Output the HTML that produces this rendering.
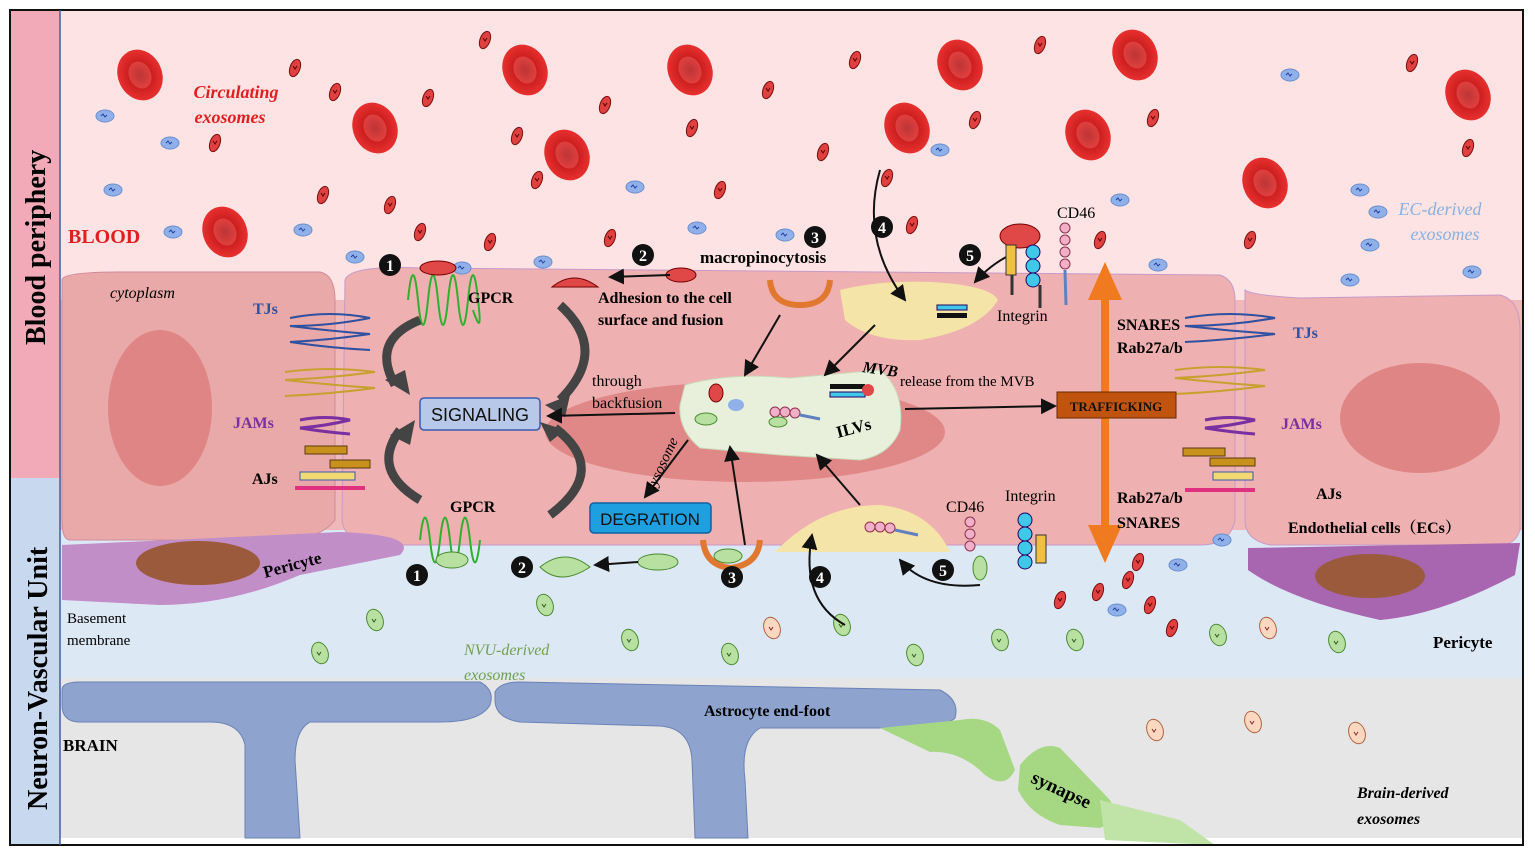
<!DOCTYPE html>
<html><head><meta charset="utf-8"><style>
html,body{margin:0;padding:0;background:#fff}
svg{display:block}
text{font-family:"Liberation Serif","Noto Serif CJK SC",serif}
.b{font-weight:bold}
.s{font-family:"Liberation Sans",sans-serif}
</style></head><body>
<svg width="1535" height="857" viewBox="0 0 1535 857" xmlns="http://www.w3.org/2000/svg">
<defs>
<marker id="ar" markerWidth="8" markerHeight="8" refX="7" refY="4" orient="auto"><path d="M0,0 L8,4 L0,8 Z" fill="#111"/></marker>
<radialGradient id="rbc"><stop offset="0" stop-color="#8a0a0a"/><stop offset="0.45" stop-color="#c81c1c"/><stop offset="1" stop-color="#e83030"/></radialGradient>
<g id="R"><ellipse rx="22" ry="26" fill="url(#rbc)" transform="rotate(-25)"/><ellipse rx="11" ry="14" fill="#f06060" opacity="0.5" transform="rotate(-25)"/></g>
<g id="e"><ellipse rx="5" ry="9" fill="#e04040" stroke="#7a1010" stroke-width="1" transform="rotate(20)"/><path d="M-2,-2 l2,3 l2,-3" stroke="#500" fill="none"/></g>
<g id="bl"><ellipse rx="9" ry="6" fill="#8fb0e8" stroke="#6a8ed0"/><path d="M-4,0 l2,-2 l2,3 l2,-2" stroke="#2040a0" fill="none"/></g>
<g id="g"><ellipse rx="8" ry="11" fill="#b8e0a0" stroke="#4a8a30" transform="rotate(-20)"/><path d="M-3,-1 l2,3 l2,-3" stroke="#2a5a20" fill="none"/></g>
<g id="o"><ellipse rx="8" ry="11" fill="#fcd8c0" stroke="#b06040" transform="rotate(-20)"/><path d="M-3,-1 l2,3 l2,-3" stroke="#803020" fill="none"/></g>
</defs>
<rect x="60" y="10" width="1463" height="300" fill="#fde3e3"/>
<rect x="60" y="300" width="1463" height="240" fill="#f0b8b8"/>
<rect x="60" y="530" width="1463" height="150" fill="#dde8f5"/>
<rect x="60" y="678" width="1463" height="160" fill="#e6e6e6"/>
<path d="M62,280 Q62,272 120,272 L320,272 Q335,275 335,300 L335,520 Q320,540 280,540 L70,540 Q62,540 62,520 Z" fill="#e9a9a9" stroke="#d08a9a"/>
<path d="M345,280 Q350,265 420,268 L1220,275 Q1235,280 1235,300 L1235,520 Q1230,545 1200,545 L380,545 Q345,545 342,520 Z" fill="#eeb0b0" stroke="#c79ac8"/>
<path d="M1245,290 Q1250,295 1300,298 L1500,295 Q1520,300 1520,330 L1520,530 Q1515,545 1500,545 L1270,545 Q1245,540 1245,520 Z" fill="#eeb0b0" stroke="#c79ac8"/>
<ellipse cx="160" cy="408" rx="52" ry="78" fill="#e08585"/>
<ellipse cx="1420" cy="418" rx="80" ry="55" fill="#e08585"/>
<ellipse cx="745" cy="432" rx="200" ry="50" fill="#e08888"/>
<path d="M62,545 L340,532 Q420,535 400,555 L300,575 Q230,605 160,605 L62,600 Z" fill="#c28ec8"/>
<ellipse cx="198" cy="563" rx="62" ry="22" fill="#9b5a3c"/>
<path d="M1248,548 L1520,543 L1515,575 Q1440,615 1380,620 Q1290,600 1248,570 Z" fill="#a866b0"/>
<ellipse cx="1370" cy="576" rx="55" ry="22" fill="#9b5a3c"/>
<path d="M62,690 Q62,682 80,682 L480,682 Q495,690 490,705 Q480,722 440,722 L310,722 Q295,730 295,760 L300,838 L245,838 L245,745 Q240,722 210,722 L80,722 Q62,722 62,705 Z" fill="#8ea4cf" stroke="#6a82b5"/>
<path d="M495,692 Q500,682 520,682 L940,690 Q960,700 955,718 Q945,728 900,728 L760,728 Q740,740 745,780 L748,838 L695,838 L692,760 Q690,728 660,726 L520,722 Q495,718 495,700 Z" fill="#8ea4cf" stroke="#6a82b5"/>
<path d="M880,728 L960,720 Q985,715 1000,730 L1015,770 Q1005,790 985,775 Q960,750 930,752 Z" fill="#a6d884"/>
<path d="M1020,765 Q1040,740 1060,748 L1110,800 Q1120,820 1100,828 L1060,825 Q1030,815 1018,790 Z" fill="#a6d884"/>
<path d="M1100,800 L1180,820 L1215,845 L1105,840 Z" fill="#c0e4a8"/>
<path d="M840,290 Q880,280 930,282 Q990,285 998,300 Q980,330 920,340 Q870,342 845,320 Z" fill="#f5e4a8"/>
<path d="M775,552 Q820,505 880,505 Q930,510 950,552 Z" fill="#f5e4a8"/>
<path d="M685,385 Q730,372 790,378 L880,370 Q905,390 900,430 Q890,455 860,460 L780,455 L700,448 Q678,430 680,405 Z" fill="#e8f0dc" stroke="#c9d9b8"/>
<rect x="10" y="10" width="50" height="468" fill="#f2a9b8"/>
<rect x="10" y="478" width="50" height="367" fill="#c8d8ee"/>
<rect x="10" y="10" width="1513" height="835" fill="none" stroke="#111" stroke-width="2"/>
<line x1="60" y1="10" x2="60" y2="845" stroke="#4060a0" stroke-width="1.5"/>
<text class="b" font-size="28" transform="translate(45,345) rotate(-90)">Blood periphery</text>
<text class="b" font-size="28" transform="translate(47,810) rotate(-90)">Neuron-Vascular Unit</text>
<use href="#R" x="140" y="75"/><use href="#R" x="525" y="70"/><use href="#R" x="690" y="70"/><use href="#R" x="375" y="128"/><use href="#R" x="567" y="155"/><use href="#R" x="225" y="232"/><use href="#R" x="960" y="65"/><use href="#R" x="1135" y="55"/><use href="#R" x="907" y="128"/><use href="#R" x="1088" y="135"/><use href="#R" x="1468" y="95"/><use href="#R" x="1265" y="183"/>
<g>
<use href="#e" x="485" y="40"/><use href="#e" x="295" y="68"/><use href="#e" x="428" y="98"/><use href="#e" x="335" y="92"/><use href="#e" x="605" y="105"/><use href="#e" x="517" y="136"/><use href="#e" x="692" y="128"/><use href="#e" x="768" y="90"/><use href="#e" x="855" y="60"/><use href="#e" x="1040" y="45"/><use href="#e" x="1412" y="63"/><use href="#e" x="1153" y="118"/><use href="#e" x="1468" y="148"/><use href="#e" x="323" y="195"/><use href="#e" x="390" y="205"/><use href="#e" x="420" y="232"/><use href="#e" x="490" y="242"/><use href="#e" x="610" y="238"/><use href="#e" x="537" y="180"/><use href="#e" x="720" y="190"/><use href="#e" x="823" y="152"/><use href="#e" x="887" y="178"/><use href="#e" x="912" y="225"/><use href="#e" x="1100" y="240"/><use href="#e" x="1250" y="240"/><use href="#e" x="975" y="120"/><use href="#e" x="215" y="143"/>
<use href="#bl" x="105" y="116"/><use href="#bl" x="170" y="143"/><use href="#bl" x="113" y="190"/><use href="#bl" x="173" y="232"/><use href="#bl" x="303" y="230"/><use href="#bl" x="355" y="257"/><use href="#bl" x="462" y="268"/><use href="#bl" x="543" y="262"/><use href="#bl" x="635" y="187"/><use href="#bl" x="697" y="228"/><use href="#bl" x="785" y="235"/><use href="#bl" x="940" y="150"/><use href="#bl" x="1290" y="75"/><use href="#bl" x="1360" y="190"/><use href="#bl" x="1378" y="212"/><use href="#bl" x="1370" y="245"/><use href="#bl" x="1350" y="280"/><use href="#bl" x="1472" y="272"/><use href="#bl" x="1158" y="265"/><use href="#bl" x="1120" y="200"/>
<use href="#g" x="545" y="605"/><use href="#g" x="375" y="620"/><use href="#g" x="320" y="653"/><use href="#g" x="630" y="640"/><use href="#g" x="730" y="654"/><use href="#g" x="842" y="625"/><use href="#g" x="915" y="655"/><use href="#g" x="1000" y="640"/><use href="#g" x="1075" y="640"/><use href="#g" x="1218" y="635"/><use href="#g" x="1337" y="642"/>
<use href="#o" x="772" y="628"/><use href="#o" x="1268" y="628"/><use href="#o" x="1155" y="730"/><use href="#o" x="1253" y="722"/><use href="#o" x="1357" y="733"/>
<use href="#e" x="1060" y="600"/><use href="#e" x="1098" y="592"/><use href="#e" x="1128" y="580"/><use href="#e" x="1150" y="605"/><use href="#e" x="1172" y="628"/><use href="#e" x="1138" y="562"/>
<use href="#bl" x="1117" y="610"/><use href="#bl" x="1178" y="565"/><use href="#bl" x="1222" y="540"/>
</g>
<g fill="none" stroke-width="2">
<path d="M290,318 q40,-8 80,0 q-40,8 -80,8 q40,5 80,8 q-40,6 -80,8 q40,6 80,8" stroke="#3050a0"/>
<path d="M285,372 q45,-6 90,0 q-45,6 -90,8 q45,5 90,8 q-45,6 -90,8" stroke="#c8a030"/>
<path d="M300,420 q25,-5 50,0 q-25,6 -50,8 q25,4 50,6" stroke="#7a30a0" stroke-width="3"/>
<path d="M1185,318 q45,-8 90,0 q-45,8 -90,8 q45,5 90,8 q-45,6 -90,8" stroke="#3050a0"/>
<path d="M1175,370 q45,-6 90,0 q-45,6 -90,8 q45,5 90,8 q-45,6 -90,8" stroke="#c8a030"/>
<path d="M1205,420 q25,-5 50,0 q-25,6 -50,8 q25,4 50,6" stroke="#7a30a0" stroke-width="3"/>
</g>
<rect x="305" y="446" width="42" height="8" fill="#c8901c" stroke="#5a3a10"/><rect x="330" y="460" width="40" height="8" fill="#c8901c" stroke="#5a3a10"/><rect x="300" y="472" width="55" height="8" fill="#f2d870" stroke="#3a5ab0"/><rect x="295" y="486" width="70" height="4" fill="#e03080"/>
<rect x="1183" y="448" width="42" height="8" fill="#c8901c" stroke="#5a3a10"/><rect x="1210" y="458" width="45" height="8" fill="#c8901c" stroke="#5a3a10"/><rect x="1213" y="472" width="40" height="8" fill="#f2d870" stroke="#3a5ab0"/><rect x="1185" y="488" width="70" height="4" fill="#e03080"/>
<path d="M408,300 q5,-50 10,0 t10,0 t10,0 t10,0 t10,0 t10,0 t10,0 q5,40 -5,10" fill="none" stroke="#30b030" stroke-width="2"/>
<ellipse cx="438" cy="268" rx="18" ry="7" fill="#e04848" stroke="#700"/>
<path d="M420,540 q5,-45 10,0 t10,0 t10,0 t10,0 t10,0 t10,0" fill="none" stroke="#30b030" stroke-width="2"/>
<ellipse cx="452" cy="560" rx="16" ry="8" fill="#b8e0a0" stroke="#4a8a30"/>
<g fill="none" stroke="#444" stroke-width="9">
<path d="M420,320 Q370,340 395,385"/><path d="M560,305 Q610,350 560,400"/><path d="M420,500 Q370,470 400,430"/><path d="M550,515 Q610,470 555,428"/>
</g>
<g fill="#444"><path d="M385,380 l25,15 l-5,-25 Z"/><path d="M570,395 l-25,10 l20,12 Z"/><path d="M390,435 l25,-15 l-5,25 Z"/><path d="M565,430 l-25,-8 l10,20 Z"/></g>
<!-- orange double arrow (behind box) -->
<rect x="1101" y="295" width="8" height="235" fill="#f07a20"/>
<path d="M1088,300 L1105,262 L1122,300 Z" fill="#f07a20"/>
<path d="M1088,525 L1105,563 L1122,525 Z" fill="#f07a20"/>
<rect x="420" y="398" width="120" height="32" rx="4" fill="#b8c8e8" stroke="#3a5ab0" stroke-width="1.5"/>
<text class="s" x="480" y="421" font-size="18" text-anchor="middle" fill="#111">SIGNALING</text>
<rect x="590" y="503" width="121" height="30" rx="4" fill="#1ea0e0" stroke="#1060a0" stroke-width="1.5"/>
<text class="s" x="650" y="525" font-size="17" text-anchor="middle" fill="#111">DEGRATION</text>
<rect x="1057" y="392" width="119" height="26" fill="#c0540f" stroke="#6a2a00"/>
<text class="b" x="1116" y="411" font-size="13" text-anchor="middle" fill="#111">TRAFFICKING</text>
<path d="M552,287 q22,-18 46,0 Z" fill="#e04848" stroke="#700"/>
<path d="M540,567 q20,20 50,0 q-25,-20 -50,0 Z" fill="#b8e0a0" stroke="#4a8a30"/>
<ellipse cx="681" cy="275" rx="15" ry="7" fill="#e04848" stroke="#700"/>
<ellipse cx="658" cy="562" rx="20" ry="8" fill="#b8e0a0" stroke="#4a8a30"/>
<path d="M770,280 Q772,305 800,305 Q828,305 830,280" fill="none" stroke="#e07830" stroke-width="6"/>
<path d="M703,540 Q705,565 730,568 Q758,565 760,540" fill="none" stroke="#e07830" stroke-width="6"/>
<ellipse cx="728" cy="556" rx="14" ry="7" fill="#b8e0a0" stroke="#4a8a30"/>
<g stroke="#111" stroke-width="2" fill="none" marker-end="url(#ar)">
<line x1="670" y1="275" x2="610" y2="277"/>
<line x1="638" y1="562" x2="595" y2="565"/>
<line x1="780" y1="315" x2="745" y2="375"/>
<line x1="875" y1="325" x2="825" y2="375"/>
<line x1="675" y1="413" x2="548" y2="416"/>
<line x1="905" y1="409" x2="1055" y2="406"/>
<line x1="688" y1="440" x2="645" y2="497"/>
<line x1="745" y1="545" x2="730" y2="447"/>
<line x1="860" y1="505" x2="817" y2="455"/>
<path d="M880,170 Q860,240 905,300"/>
<path d="M845,625 Q800,600 812,535"/>
<path d="M1010,255 Q990,265 975,282"/>
<path d="M980,585 Q925,590 900,560"/>
</g>
<ellipse cx="1020" cy="236" rx="20" ry="12" fill="#e04848" stroke="#700"/>
<rect x="1006" y="245" width="10" height="30" fill="#f2c040" stroke="#333"/><circle cx="1033" cy="252" r="7" fill="#40c8e8" stroke="#206"/><circle cx="1033" cy="266" r="7" fill="#40c8e8" stroke="#206"/><circle cx="1033" cy="280" r="7" fill="#40c8e8" stroke="#206"/>
<line x1="1012" y1="275" x2="1012" y2="295" stroke="#333" stroke-width="3"/><line x1="1040" y1="285" x2="1040" y2="308" stroke="#333" stroke-width="3"/>
<g fill="#f0b0c8" stroke="#903050"><circle cx="1065" cy="228" r="5"/><circle cx="1065" cy="240" r="5"/><circle cx="1065" cy="252" r="5"/><circle cx="1065" cy="264" r="5"/></g>
<line x1="1065" y1="270" x2="1066" y2="305" stroke="#6080c0" stroke-width="3"/>
<g fill="#f0b0c8" stroke="#903050"><circle cx="970" cy="522" r="5"/><circle cx="970" cy="534" r="5"/><circle cx="970" cy="546" r="5"/></g>
<ellipse cx="980" cy="568" rx="7" ry="12" fill="#b8e0a0" stroke="#4a8a30"/>
<g fill="#40c8e8" stroke="#206"><circle cx="1025" cy="520" r="7"/><circle cx="1025" cy="534" r="7"/><circle cx="1025" cy="548" r="7"/><circle cx="1025" cy="562" r="7"/></g>
<rect x="1036" y="535" width="10" height="28" fill="#f2c040" stroke="#333"/>
<g fill="#f0b0c8" stroke="#903050"><circle cx="870" cy="527" r="5"/><circle cx="880" cy="527" r="5"/><circle cx="890" cy="528" r="5"/></g><line x1="895" y1="530" x2="918" y2="535" stroke="#6080c0" stroke-width="3"/>
<g fill="#f0b0c8" stroke="#903050"><circle cx="775" cy="412" r="5"/><circle cx="785" cy="412" r="5"/><circle cx="795" cy="413" r="5"/></g><line x1="800" y1="415" x2="820" y2="419" stroke="#6080c0" stroke-width="3"/>
<ellipse cx="778" cy="422" rx="9" ry="5" fill="#b8e0a0" stroke="#4a8a30"/>
<ellipse cx="716" cy="393" rx="7" ry="9" fill="#e04848" stroke="#700"/><ellipse cx="736" cy="405" rx="8" ry="6" fill="#8fb0e8"/><ellipse cx="706" cy="419" rx="11" ry="6" fill="#b8e0a0" stroke="#4a8a30"/>
<rect x="830" y="384" width="35" height="5" fill="#111"/><rect x="830" y="392" width="35" height="5" fill="#40c8e8" stroke="#206"/><circle cx="868" cy="390" r="6" fill="#e04848"/>
<rect x="937" y="305" width="30" height="5" fill="#40c8e8" stroke="#206"/><rect x="937" y="313" width="30" height="5" fill="#111"/>
<g font-size="16" class="b" text-anchor="middle" fill="#fff">
<circle cx="390" cy="265" r="11" fill="#111"/><text x="390" y="271">1</text>
<circle cx="643" cy="255" r="11" fill="#111"/><text x="643" y="261">2</text>
<circle cx="815" cy="237" r="11" fill="#111"/><text x="815" y="243">3</text>
<circle cx="882" cy="227" r="11" fill="#111"/><text x="882" y="233">4</text>
<circle cx="970" cy="255" r="11" fill="#111"/><text x="970" y="261">5</text>
<circle cx="417" cy="575" r="11" fill="#111"/><text x="417" y="581">1</text>
<circle cx="522" cy="567" r="11" fill="#111"/><text x="522" y="573">2</text>
<circle cx="732" cy="577" r="11" fill="#111"/><text x="732" y="583">3</text>
<circle cx="820" cy="577" r="11" fill="#111"/><text x="820" y="583">4</text>
<circle cx="943" cy="570" r="11" fill="#111"/><text x="943" y="576">5</text>
</g>
<text x="236" y="98" font-size="18" fill="#e02020" font-style="italic" font-weight="bold" text-anchor="middle">Circulating</text>
<text x="230" y="123" font-size="18" fill="#e02020" font-style="italic" font-weight="bold" text-anchor="middle">exosomes</text>
<text x="68" y="243" font-size="20" class="b" fill="#e02020">BLOOD</text>
<text x="1440" y="215" font-size="18" fill="#8ab0e0" font-style="italic" text-anchor="middle">EC-derived</text>
<text x="1445" y="240" font-size="18" fill="#8ab0e0" font-style="italic" text-anchor="middle">exosomes</text>
<text x="110" y="298" font-size="16" font-style="italic">cytoplasm</text>
<text x="253" y="314" font-size="16" class="b" fill="#3050a0">TJs</text>
<text x="233" y="428" font-size="16" class="b" fill="#7a30a0">JAMs</text>
<text x="252" y="484" font-size="16" class="b">AJs</text>
<text x="468" y="303" font-size="16" class="b">GPCR</text>
<text x="450" y="512" font-size="16" class="b">GPCR</text>
<text x="598" y="303" font-size="16" class="b">Adhesion to the cell</text>
<text x="598" y="325" font-size="16" class="b">surface and fusion</text>
<text x="700" y="263" font-size="17" class="b">macropinocytosis</text>
<text x="592" y="386" font-size="16">through</text>
<text x="592" y="408" font-size="16">backfusion</text>
<text x="862" y="372" font-size="16" class="b" font-style="italic" transform="rotate(8 862 372)">MVB</text>
<text x="900" y="386" font-size="15">release from the MVB</text>
<text x="838" y="438" font-size="17" class="b" transform="rotate(-15 838 438)">ILVs</text>
<text x="655" y="490" font-size="15" font-style="italic" transform="rotate(-65 655 490)">lysosome</text>
<text x="1057" y="218" font-size="16">CD46</text>
<text x="997" y="321" font-size="16">Integrin</text>
<text x="946" y="512" font-size="16">CD46</text>
<text x="1005" y="501" font-size="16">Integrin</text>
<text x="1117" y="330" font-size="16" class="b">SNARES</text>
<text x="1117" y="353" font-size="16" class="b">Rab27a/b</text>
<text x="1117" y="503" font-size="16" class="b">Rab27a/b</text>
<text x="1117" y="528" font-size="16" class="b">SNARES</text>
<text x="1293" y="338" font-size="16" class="b" fill="#3050a0">TJs</text>
<text x="1281" y="429" font-size="16" class="b" fill="#7a30a0">JAMs</text>
<text x="1316" y="499" font-size="16" class="b">AJs</text>
<text x="1288" y="533" font-size="16" class="b">Endothelial cells（ECs）</text>
<text x="265" y="578" font-size="17" class="b" transform="rotate(-15 265 578)">Pericyte</text>
<text x="1433" y="648" font-size="17" class="b">Pericyte</text>
<text x="67" y="623" font-size="15">Basement</text>
<text x="67" y="645" font-size="15">membrane</text>
<text x="464" y="655" font-size="16" fill="#70a050" font-style="italic">NVU-derived</text>
<text x="464" y="680" font-size="16" fill="#70a050" font-style="italic">exosomes</text>
<text x="63" y="751" font-size="17" class="b">BRAIN</text>
<text x="704" y="716" font-size="16" class="b">Astrocyte end-foot</text>
<text x="1030" y="782" font-size="19" class="b" transform="rotate(25 1030 782)">synapse</text>
<text x="1357" y="798" font-size="16" class="b" font-style="italic">Brain-derived</text>
<text x="1357" y="824" font-size="16" class="b" font-style="italic">exosomes</text>
</svg>
</body></html>
